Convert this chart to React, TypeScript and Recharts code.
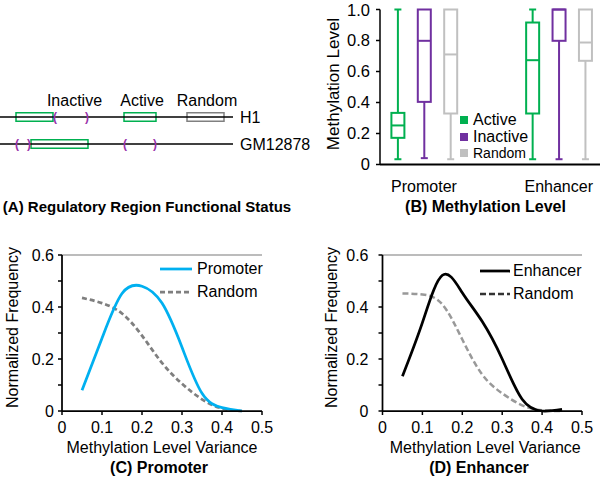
import React from 'react'
import {
	ScatterChart,
	Scatter,
	ComposedChart,
	Bar,
	LineChart,
	Line,
	XAxis,
	YAxis,
	ReferenceLine,
	ReferenceArea,
	Legend,
} from 'recharts'

const FONT = '"Liberation Sans", Arial, sans-serif'

// ---------- (A) regulatory region schematic ----------
const tracks = ['H1', 'GM12878']
const trackLength = 233
const regionBoxes = [
	{ track: 0, start: 16, end: 53, kind: 'active' },
	{ track: 0, start: 124, end: 156, kind: 'active' },
	{ track: 0, start: 187, end: 224, kind: 'random' },
	{ track: 1, start: 31, end: 88, kind: 'active' },
]
const boundaries = [
	{ track: 0, pos: 55, glyph: '(' },
	{ track: 0, pos: 87, glyph: ')' },
	{ track: 1, pos: 17, glyph: '(' },
	{ track: 1, pos: 29, glyph: ')' },
	{ track: 1, pos: 125, glyph: '(' },
	{ track: 1, pos: 155, glyph: ')' },
]
const statusLabels = [
	{ pos: 74.5, text: 'Inactive' },
	{ pos: 142, text: 'Active' },
	{ pos: 207, text: 'Random' },
]

// ---------- (B) methylation level box plots ----------
const groups = ['Promoter', 'Enhancer']
const statuses = ['Active', 'Inactive', 'Random']
// [min, q1, median, q3, max] for Promoter, Enhancer
const activeStats = [
	[0.034, 0.172, 0.252, 0.333, 1.0],
	[0.034, 0.329, 0.673, 0.916, 1.0],
]
const inactiveStats = [
	[0.041, 0.404, 0.798, 1.0, 1.0],
	[0.034, 0.798, 1.0, 1.0, 1.0],
]
const randomStats = [
	[0.034, 0.329, 0.71, 1.0, 1.0],
	[0.034, 0.669, 0.787, 1.0, 1.0],
]
const methylationTicks = [0, 0.2, 0.4, 0.6, 0.8, 1.0]

// ---------- (C)/(D) variance distributions ----------
const varianceBins = [0.05, 0.1, 0.15, 0.2, 0.25, 0.3, 0.35, 0.4, 0.45]
const promoterFreq = [0.08, 0.28, 0.452, 0.48, 0.415, 0.245, 0.068, 0.013, 0]
const promoterRandomFreq = [0.435, 0.415, 0.375, 0.29, 0.185, 0.105, 0.045, 0.01, 0]
const enhancerFreq = [0.134, 0.34, 0.522, 0.455, 0.344, 0.2, 0.045, 0.0, 0.006]
const enhancerRandomFreq = [0.452, 0.448, 0.41, 0.275, 0.14, 0.068, 0.022, 0.003, 0]
const varianceTicks = [0, 0.1, 0.2, 0.3, 0.4, 0.5]
const freqTicks = [0, 0.1, 0.2, 0.3, 0.4, 0.5, 0.6]

const statusColors: Record<string, string> = {
	Active: '#00b050',
	Inactive: '#7030a0',
	Random: '#c0c0c0',
}
const boxColors: Record<string, string> = { active: '#00b050', random: '#808080' }

// layout of the box plot x axis
const groupCenters = [1.6, 6.5]
const slotStep = 0.96

const fmt = (v: number) => (v === 0 ? '0' : v.toFixed(1))

const PanelTitle = ({ text, cx, baseline, size }: any) => (
	<div
		style={{
			position: 'absolute',
			left: cx - 160,
			width: 320,
			top: baseline - size * 0.846,
			textAlign: 'center',
			fontWeight: 'bold',
			fontSize: size,
			lineHeight: `${size}px`,
			whiteSpace: 'nowrap',
		}}
	>
		{text}
	</div>
)

const textShape = (anchor: string, size: number, color: string, weight = 'normal') => (p: any) => (
	<text
		x={p.cx}
		y={p.cy}
		dy='0.36em'
		textAnchor={anchor}
		fontSize={size}
		fill={color}
		fontWeight={weight}
		fontFamily={FONT}
	>
		{p.payload.text}
	</text>
)

const Schematic = () => {
	const trackLabelPts = tracks.map((t, i) => ({ x: trackLength + 7, y: i + 1, text: t }))
	const statusPts = statusLabels.map((s) => ({ x: s.pos, y: 0.37, text: s.text }))
	const boundaryPts = boundaries.map((b) => ({ x: b.pos, y: b.track + 1, text: b.glyph }))
	return (
		<ScatterChart width={330} height={81} margin={{ top: 0, right: 0, bottom: 0, left: 0 }}>
			<XAxis type='number' dataKey='x' domain={[0, 330]} hide />
			<YAxis type='number' dataKey='y' domain={[0, 3]} reversed hide />
			{tracks.map((t, i) => (
				<ReferenceLine
					key={t}
					segment={[
						{ x: 0, y: i + 1 },
						{ x: trackLength, y: i + 1 },
					]}
					stroke='#000'
					strokeWidth={1.5}
				/>
			))}
			{regionBoxes.map((b, i) => (
				<ReferenceArea
					key={i}
					x1={b.start}
					x2={b.end}
					y1={b.track + 1 - 0.16}
					y2={b.track + 1 + 0.16}
					fill='none'
					fillOpacity={0}
					stroke={boxColors[b.kind]}
					strokeWidth={1.5}
				/>
			))}
			<Scatter data={trackLabelPts} shape={textShape('start', 16, '#000')} isAnimationActive={false} />
			<Scatter data={statusPts} shape={textShape('middle', 16, '#000')} isAnimationActive={false} />
			<Scatter data={boundaryPts} shape={textShape('middle', 12, '#9933aa', 'bold')} isAnimationActive={false} />
		</ScatterChart>
	)
}

const BoxShape = (props: any) => {
	const { x, y, width, height, payload } = props
	const { min, q1, median, q3, max, status } = payload
	const py = (v: number) => y + (height * (max - v)) / (max - min)
	const cx = x + width / 2
	const cap = 7
	return (
		<g stroke={statusColors[status]} strokeWidth={2} fill='none'>
			{max > q3 && <line x1={cx} x2={cx} y1={py(max)} y2={py(q3)} />}
			{max > q3 && <line x1={cx - cap / 2} x2={cx + cap / 2} y1={py(max)} y2={py(max)} />}
			<line x1={cx} x2={cx} y1={py(q1)} y2={py(min)} />
			<line x1={cx - cap / 2} x2={cx + cap / 2} y1={py(min)} y2={py(min)} />
			<rect x={x} y={py(q3)} width={width} height={py(q1) - py(q3)} />
			<line x1={x} x2={x + width} y1={py(median)} y2={py(median)} />
		</g>
	)
}

const BoxLegend = () => (
	<div style={{ fontFamily: FONT, color: '#000' }}>
		{statuses.map((s) => (
			<div key={s} style={{ display: 'flex', alignItems: 'center', height: 16.75 }}>
				<div style={{ width: 8, height: 8, background: statusColors[s] }} />
				<span style={{ marginLeft: 5, fontSize: s === 'Random' ? 14 : 16, lineHeight: 1 }}>{s}</span>
			</div>
		))}
	</div>
)

const MethylationBoxes = () => {
	const statsByStatus = [activeStats, inactiveStats, randomStats]
	const rows = groups.flatMap((g, gi) =>
		statuses.map((s, si) => {
			const [min, q1, median, q3, max] = statsByStatus[si][gi]
			return {
				pos: groupCenters[gi] + (si - 1) * slotStep,
				group: g,
				status: s,
				range: [min, max],
				min,
				q1,
				median,
				q3,
				max,
			}
		})
	)
	return (
		<ComposedChart width={300} height={230} data={rows} margin={{ top: 9.5, right: 0, bottom: 25.5, left: 0 }}>
			<XAxis
				type='number'
				dataKey='pos'
				domain={[0, 8]}
				ticks={groupCenters}
				interval={0}
				tickFormatter={(v: number) => groups[groupCenters.indexOf(v)] ?? ''}
				axisLine={{ stroke: '#000', strokeWidth: 2 }}
				tickLine={false}
				tickSize={0}
				tickMargin={16.5}
				height={40}
				tick={{ fill: '#000', fontSize: 16 }}
			/>
			<YAxis
				type='number'
				domain={[0, 1]}
				ticks={methylationTicks}
				tickFormatter={fmt}
				width={80}
				axisLine={{ stroke: '#000', strokeWidth: 1.5 }}
				tickLine={{ stroke: '#000', strokeWidth: 1.5 }}
				tickSize={4}
				tickMargin={6}
				tick={{ fill: '#000', fontSize: 16.5 }}
				label={{
					content: ({ viewBox }: any) => {
						const lx = viewBox.x + 32.5
						const ly = viewBox.y + viewBox.height / 2 - 3
						return (
							<text x={lx} y={ly} dy='0.36em' textAnchor='middle' fontSize={17} fill='#000' transform={`rotate(-90 ${lx} ${ly})`}>
								Methylation Level
							</text>
						)
					},
				}}
			/>
			<Bar dataKey='range' barSize={13} shape={BoxShape} isAnimationActive={false} />
			<Legend
				layout='vertical'
				align='center'
				verticalAlign='middle'
				wrapperStyle={{ left: 160, top: 111.6, width: 'auto', height: 'auto' }}
				content={() => <BoxLegend />}
			/>
		</ComposedChart>
	)
}

const LineLegend = ({ items, sampleWidth, gap, rowHeight }: any) => (
	<div style={{ fontFamily: FONT, fontSize: 16, color: '#000' }}>
		{items.map((it: any) => (
			<div key={it.name} style={{ display: 'flex', alignItems: 'center', height: rowHeight }}>
				<svg width={sampleWidth} height={6} style={{ display: 'block' }}>
					<line x1={0} x2={sampleWidth} y1={3} y2={3} stroke={it.legendColor} strokeWidth={it.width} strokeDasharray={it.dash} />
				</svg>
				<span style={{ marginLeft: gap, lineHeight: 1 }}>{it.name}</span>
			</div>
		))}
	</div>
)

const DensityPanel = ({ items, primary, random, axisWidth, rightMargin, yLabelX, xLabelDx, legendLeft, legendTop, sampleWidth, gap, tickMargin }: any) => {
	const data = varianceBins.map((v, i) => ({ v, primary: primary[i], random: random[i] }))
	return (
		<LineChart width={300} height={238} data={data} margin={{ top: 15, right: rightMargin, bottom: 22, left: 0 }}>
			<XAxis
				type='number'
				dataKey='v'
				domain={[0, 0.5]}
				ticks={varianceTicks}
				interval={0}
				tickFormatter={fmt}
				height={45}
				axisLine={{ stroke: '#000', strokeWidth: 1.75 }}
				tickLine={{ stroke: '#000', strokeWidth: 1.5 }}
				tickSize={4}
				tickMargin={7}
				tick={{ fill: '#000', fontSize: 16 }}
				label={{
					content: ({ viewBox }: any) => (
						<text x={viewBox.x + viewBox.width / 2 + xLabelDx} y={viewBox.y + 42} textAnchor='middle' fontSize={16} fill='#000'>
							Methylation Level Variance
						</text>
					),
				}}
			/>
			<YAxis
				type='number'
				domain={[0, 0.6]}
				ticks={freqTicks}
				interval={0}
				tickFormatter={(v: number) => (Math.round(v * 10) % 2 === 0 ? fmt(v) : '')}
				width={axisWidth}
				axisLine={{ stroke: '#000', strokeWidth: 1.75 }}
				tickLine={{ stroke: '#000', strokeWidth: 1.5 }}
				tickSize={4}
				tickMargin={tickMargin}
				tick={{ fill: '#000', fontSize: 16 }}
				label={{
					content: ({ viewBox }: any) => {
						const lx = viewBox.x + yLabelX
						const ly = viewBox.y + viewBox.height / 2 - 5.5
						return (
							<text x={lx} y={ly} dy='0.36em' textAnchor='middle' fontSize={16} fill='#000' transform={`rotate(-90 ${lx} ${ly})`}>
								Normalized Frequency
							</text>
						)
					},
				}}
			/>
			<ReferenceLine y={0.6} stroke='#a6a6a6' strokeWidth={1.5} />
			<Line type='natural' dataKey='random' name={items[1].name} stroke={items[1].color} strokeWidth={items[1].width} strokeDasharray={items[1].dash} dot={false} isAnimationActive={false} />
			<Line type='natural' dataKey='primary' name={items[0].name} stroke={items[0].color} strokeWidth={items[0].width} dot={false} isAnimationActive={false} />
			<Legend
				layout='vertical'
				align='center'
				verticalAlign='middle'
				wrapperStyle={{ left: legendLeft, top: legendTop, width: 'auto', height: 'auto' }}
				content={() => <LineLegend items={items} sampleWidth={sampleWidth} gap={gap} rowHeight={22.5} />}
			/>
		</LineChart>
	)
}

const promoterItems = [
	{ name: 'Promoter', color: '#00b0f0', legendColor: '#00b0f0', width: 2.75 },
	{ name: 'Random', color: '#7f7f7f', legendColor: '#7f7f7f', width: 2.75, dash: '5 3' },
]
const enhancerItems = [
	{ name: 'Enhancer', color: '#000', legendColor: '#000', width: 2.75 },
	{ name: 'Random', color: '#999', legendColor: '#333', width: 2.5, dash: '6 3' },
]

export default function App() {
	return (
		<div
			style={{
				position: 'absolute',
				left: 0,
				top: 0,
				width: 600,
				height: 478,
				overflow: 'hidden',
				background: '#fff',
				fontFamily: FONT,
				color: '#000',
			}}
		>
			<div style={{ position: 'absolute', left: 0, top: 90 }}>
				<Schematic />
			</div>
			<div style={{ position: 'absolute', left: 300, top: 0 }}>
				<MethylationBoxes />
			</div>
			<div style={{ position: 'absolute', left: 0, top: 240 }}>
				<DensityPanel
					items={promoterItems}
					primary={promoterFreq}
					random={promoterRandomFreq}
					axisWidth={62}
					rightMargin={38}
					yLabelX={12.5}
					xLabelDx={0}
					legendLeft={160}
					legendTop={17.75}
					sampleWidth={32}
					gap={5}
					tickMargin={4}
				/>
			</div>
			<div style={{ position: 'absolute', left: 300, top: 240 }}>
				<DensityPanel
					items={enhancerItems}
					primary={enhancerFreq}
					random={enhancerRandomFreq}
					axisWidth={82.5}
					rightMargin={18}
					yLabelX={31.3}
					xLabelDx={3}
					legendLeft={180}
					legendTop={19.75}
					sampleWidth={30}
					gap={3}
					tickMargin={10}
				/>
			</div>
			<PanelTitle text='(A) Regulatory Region Functional Status' cx={147} baseline={212} size={15} />
			<PanelTitle text='(B) Methylation Level' cx={485.5} baseline={213} size={16} />
			<PanelTitle text='(C) Promoter' cx={159} baseline={474} size={16} />
			<PanelTitle text='(D) Enhancer' cx={479} baseline={473.5} size={16} />
		</div>
	)
}
